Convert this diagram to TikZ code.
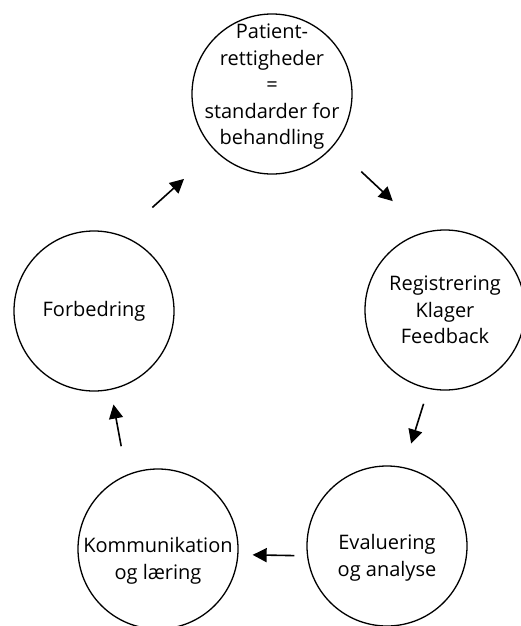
\documentclass[tikz,border=0pt]{standalone}
\usepackage{fontspec}
\setmainfont{Open Sans}
\usepackage{tikz}
\usetikzlibrary{arrows.meta}
\tikzstyle{kreds} = [draw=black, line width=1.3pt, circle, minimum size=160pt, inner sep=0pt]
\tikzstyle{tekst} = [align=center, font=\fontsize{20}{26.5}\selectfont]
\tikzstyle{pil} = [line width=1.6pt, -{Triangle[length=14pt,width=14pt]}]

\begin{document}
\begin{tikzpicture}[x=1pt,y=-1pt]
        \useasboundingbox (0,0) rectangle (521,626);
        % kredsene
        \node[kreds, label={[tekst,yshift=7pt]center:Patient-\\rettigheder\\=\\standarder for\\behandling}] (patient) at (272,94) {};
        \node[kreds, label={[tekst]center:Registrering\\Klager\\Feedback}] (registrering) at (445,310) {};
        \node[kreds, label={[tekst,yshift=-12pt]center:Evaluering\\og analyse}] (evaluering) at (387,546) {};
        \node[kreds, label={[tekst,yshift=-12pt]center:Kommunikation\\og l{\ae}ring}] (kommunikation) at (158,549) {};
        \node[kreds, label={[tekst]center:Forbedring}] (forbedring) at (94,311) {};
        % pilene
        \draw[pil, shorten <=37.6pt, shorten >=44.8pt] (patient.-40.8) -- (registrering.104.7);
        \draw[pil, shorten <=15.6pt, shorten >=24.7pt] (registrering.-102.5) -- (evaluering.78.8);
        \draw[pil, shorten <=12.5pt, shorten >=14.2pt] (evaluering.-173.5) -- (kommunikation.-4.3);
        \draw[pil, shorten <=29pt, shorten >=14.9pt] (kommunikation.113.3) -- (forbedring.-78.5);
        \draw[pil, shorten <=41.4pt, shorten >=41.7pt] (forbedring.70.3) -- (patient.-135.6);
    \end{tikzpicture}
\end{document}
